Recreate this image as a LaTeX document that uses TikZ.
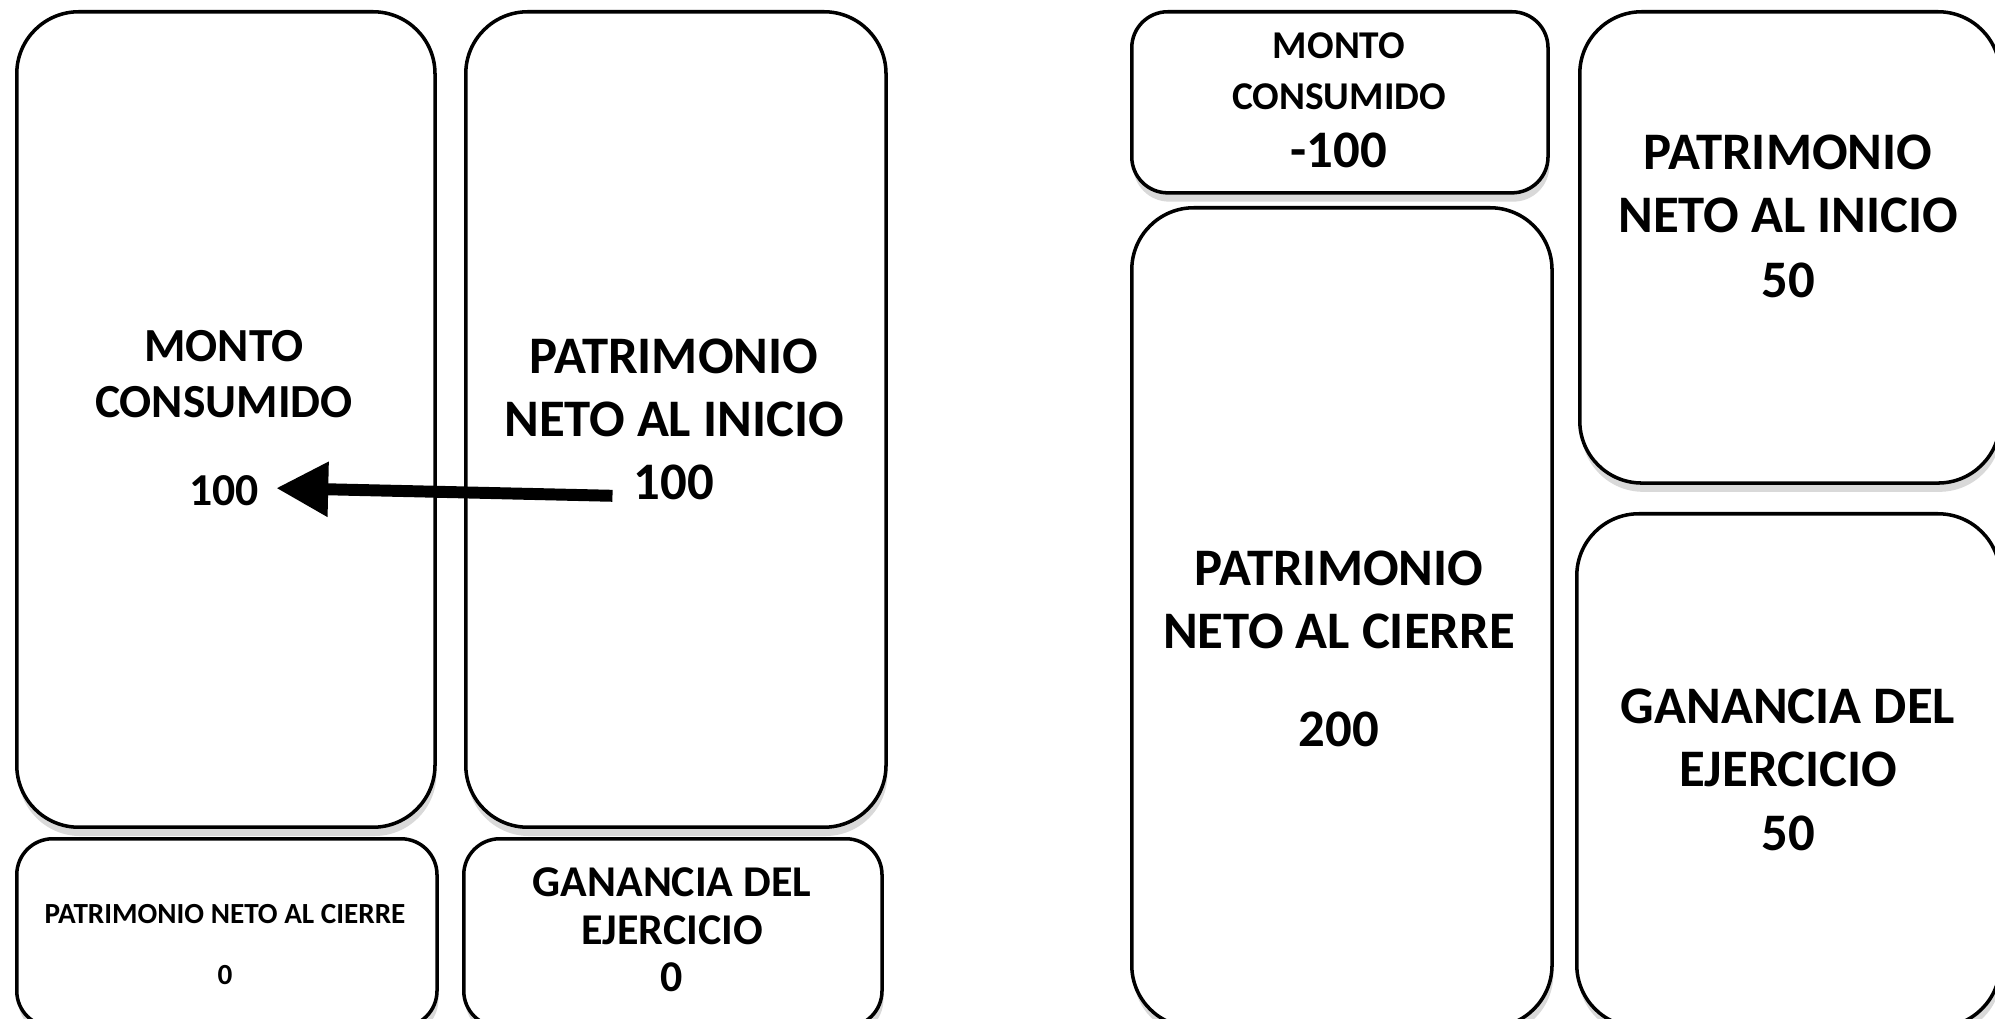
\documentclass[tikz,border=0pt]{standalone}
\usepackage{fontspec}
\setmainfont{Carlito}
\usetikzlibrary{arrows.meta,shadows}

\tikzset{
	caja/.style={draw=black, line width=1pt, fill=white, rounded corners=0.62cm, anchor=north west, inner sep=0pt,
		drop shadow={shadow xshift=0.4pt, shadow yshift=-2.5pt, opacity=0.3}},
	cajita/.style={caja, rounded corners=0.36cm},
	texto/.style 2 args={align=center, font=\fontsize{#1}{#2}\selectfont\bfseries},
	flecha/.style={line width=3.4pt, -{Triangle[length=0.52cm, width=0.52cm]}}
}

\begin{document}
\begin{tikzpicture}[x=0.01cm, y=-0.01cm]
	\useasboundingbox (0,0) rectangle (1995,1019);
	
	% Left side: boxes
	\node (mc0) at (15,10) [caja, minimum width=4.18cm, minimum height=8.15cm] {};
	\node (pi0) at (464,10) [caja, minimum width=4.20cm, minimum height=8.15cm] {};
	\node (pc0) at (15,837) [cajita, minimum width=4.20cm, minimum height=1.88cm] {};
	\node (ge0) at (462,837) [cajita, minimum width=4.18cm, minimum height=1.88cm] {};
	
	% Left side: texts
	\node (tmc0) at (224,374) [texto={13.5}{16}] {MONTO\\CONSUMIDO};
	\node (vmc0) at (224,491) [texto={13}{15}] {100};
	\node (tpi0) at (674,388) [texto={15}{18}] {PATRIMONIO\\NETO AL INICIO};
	\node (vpi0) at (674,482) [texto={15}{18}] {100};
	\node (tpc0) at (225,914) [texto={8.3}{10}] {PATRIMONIO NETO AL CIERRE};
	\node (vpc0) at (225,975) [texto={8.3}{10}] {0};
	\node (tge0) at (672,906) [texto={12.5}{13.6}] {GANANCIA DEL\\EJERCICIO};
	\node (vge0) at (672,977) [texto={12.5}{13.6}] {0};
	
	% Arrow from one 100 to the other
	\draw[flecha, shorten <=0.09cm, shorten >=0.05cm] ([yshift=-0.14cm]vpi0.west) -- ([yshift=0.03cm]vmc0.east);
	
	% Right side: boxes
	\node (mc1) at (1130,10) [cajita, minimum width=4.16cm, minimum height=1.81cm] {};
	\node (pc1) at (1130,206) [caja, minimum width=4.20cm, minimum height=8.19cm] {};
	\node (pi1) at (1578,10) [caja, minimum width=4.20cm, minimum height=4.71cm] {};
	\node (ge1) at (1575,512) [caja, minimum width=4.23cm, minimum height=5.13cm] {};
	
	% Right side: texts
	\node (tmc1) at (1339,71.5) [texto={11.2}{14.5}] {MONTO\\CONSUMIDO};
	\node (vmc1) at (1339,150) [texto={15}{18}] {-100};
	\node (tpc1) at (1339,600) [texto={15}{18}] {PATRIMONIO\\NETO AL CIERRE};
	\node (vpc1) at (1339,729) [texto={15}{18}] {200};
	\node (tpi1) at (1788,184) [texto={15}{18}] {PATRIMONIO\\NETO AL INICIO};
	\node (vpi1) at (1788,280) [texto={15}{18}] {50};
	\node (tge1) at (1788,738) [texto={15}{18}] {GANANCIA DEL\\EJERCICIO};
	\node (vge1) at (1788,833) [texto={15}{18}] {50};
\end{tikzpicture}
\end{document}
